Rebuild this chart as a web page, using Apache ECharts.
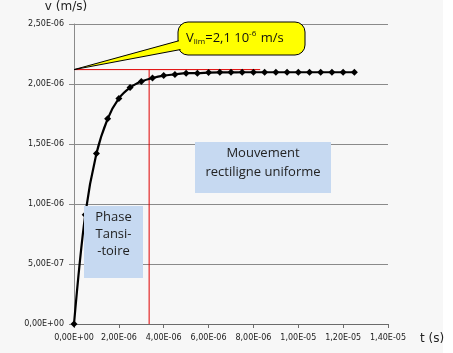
<!DOCTYPE html>
<html>
<head>
<meta charset="utf-8">
<script src="https://cdn.jsdelivr.net/npm/echarts@6/dist/echarts.min.js"></script>
<style>
html,body{margin:0;padding:0;background:#ffffff;}
#chart{width:453px;height:353px;}
</style>
</head>
<body>
<div id="chart"></div>
<script>
// time values (s)
var tValues = [0, 5e-7, 1e-6, 1.5e-6, 2e-6, 2.5e-6, 3e-6, 3.5e-6, 4e-6, 4.5e-6, 5e-6, 5.5e-6, 6e-6,
  6.5e-6, 7e-6, 7.5e-6, 8e-6, 8.5e-6, 9e-6, 9.5e-6, 1e-5, 1.05e-5, 1.1e-5, 1.15e-5, 1.2e-5, 1.25e-5];
// velocity values (m/s)
var vValues = [0, 9.1e-7, 1.42e-6, 1.71e-6, 1.88e-6, 1.97e-6, 2.02e-6, 2.05e-6, 2.07e-6, 2.08e-6, 2.09e-6, 2.09e-6, 2.095e-6,
  2.097e-6, 2.097e-6, 2.098e-6, 2.098e-6, 2.098e-6, 2.098e-6, 2.098e-6, 2.098e-6, 2.098e-6, 2.098e-6, 2.098e-6, 2.098e-6, 2.098e-6];
// reference lines
var vLimLine = 2.12e-6;     // red horizontal line level
var vLimLineEnd = 8.3e-6;   // end of red horizontal line
var tTransition = 3.35e-6;  // red vertical line
// axis ticks
var xMin = 0, xMax = 1.4e-5, xStep = 2e-6;
var yMin = 0, yMax = 2.5e-6, yStep = 5e-7;
// texts
var yAxisTitle = 'v (m/s)';
var xAxisTitle = 't (s)';
var boxPhaseText = 'Phase\nTansi-\n-toire';
var boxUniformText = 'Mouvement\nrectiligne uniforme';

function fmtSci(v) {
  var s = Number(v).toExponential(2).split('e');
  var m = s[0].replace('.', ',');
  var e = parseInt(s[1], 10);
  var sign = e < 0 ? '-' : '+';
  var a = Math.abs(e);
  return m + 'E' + sign + (a < 10 ? '0' + a : '' + a);
}

var pts = tValues.map(function (t, i) { return [t, vValues[i]]; });
var hLine = [[xMin, vLimLine], [vLimLineEnd, vLimLine]];
var vLine = [[tTransition, vLimLine], [tTransition, yMin]];

var chart = echarts.init(document.getElementById('chart'), null, {renderer: 'canvas'});
var option = {
  backgroundColor: '#ffffff',
  animation: false,
  grid: {left: 74, right: 65, top: 24, bottom: 29, containLabel: false},
  xAxis: {
    type: 'value', min: xMin, max: xMax, interval: xStep,
    axisLine: {show: true, onZero: false, lineStyle: {color: '#6b6b6b', width: 1}},
    axisTick: {show: true, inside: false, length: 4, lineStyle: {color: '#6b6b6b'}},
    splitLine: {show: false},
    axisLabel: {formatter: fmtSci, color: '#222', fontSize: 8, fontFamily: 'DejaVu Sans', margin: 10}
  },
  yAxis: {
    type: 'value', min: yMin, max: yMax, interval: yStep,
    axisLine: {show: true, lineStyle: {color: '#8a8a8a', width: 1}},
    axisTick: {show: true, length: 5, lineStyle: {color: '#8a8a8a'}},
    splitLine: {show: true, lineStyle: {color: '#8a8a8a', width: 1}},
    axisLabel: {formatter: fmtSci, color: '#222', fontSize: 8, fontFamily: 'DejaVu Sans', margin: 10}
  },
  series: [{
    type: 'line',
    data: hLine,
    symbol: 'none',
    lineStyle: {color: '#e00000', width: 1},
    z: 2, silent: true
  }, {
    type: 'line',
    data: vLine,
    symbol: 'none',
    lineStyle: {color: '#e00000', width: 1},
    z: 2, silent: true
  }, {
    type: 'line',
    data: pts,
    smooth: 0.35,
    symbol: 'diamond',
    symbolSize: 7,
    itemStyle: {color: '#000'},
    lineStyle: {color: '#000', width: 2.2},
    z: 3
  }]
};
chart.setOption(option);

var tip = chart.convertToPixel({gridIndex: 0}, [0, vLimLine]);
var tx = tip[0], ty = tip[1];

chart.setOption({
  graphic: [
    // background panel
    {type: 'rect', shape: {x: 0, y: 0, width: 443, height: 353}, style: {fill: '#f7f7f7'}, z: -10, silent: true},
    // blue annotation boxes
    {type: 'rect', shape: {x: 84, y: 206, width: 59, height: 72}, style: {fill: '#c6d9f1'}, z: 10},
    {type: 'text', x: 113.5, y: 209, style: {text: boxPhaseText, fill: '#222', font: '13px "Open Sans"', textAlign: 'center', lineHeight: 17}, z: 11},
    {type: 'rect', shape: {x: 195, y: 142, width: 136, height: 51}, style: {fill: '#c6d9f1'}, z: 10},
    {type: 'text', x: 263, y: 144, style: {text: boxUniformText, fill: '#222', font: '13px "Open Sans"', textAlign: 'center', lineHeight: 19}, z: 11},
    // callout bubble
    {type: 'rect', shape: {x: 178, y: 22, width: 127, height: 33, r: 10}, style: {fill: '#ffff00', stroke: '#000', lineWidth: 1}, z: 20},
    {type: 'polygon', shape: {points: [[tx, ty], [186, 38.8], [186, 48.5]]}, style: {fill: '#ffff00', stroke: '#000', lineWidth: 1}, z: 21},
    {type: 'rect', shape: {x: 179, y: 23, width: 125, height: 31, r: 9}, style: {fill: '#ffff00'}, z: 22},
    {type: 'text', x: 186, y: 38, style: {
      text: '{n|V}{sub|lim}{n|=2,1 10}{sup|-6}{n| m/s}',
      verticalAlign: 'middle',
      rich: {
        n: {fontSize: 13, fontFamily: 'Open Sans', fill: '#111', color: '#111'},
        sub: {fontSize: 8, fontFamily: 'Open Sans', color: '#111', fill: '#111', verticalAlign: 'bottom', padding: [6, 0, 0, 0]},
        sup: {fontSize: 8, fontFamily: 'Open Sans', color: '#111', fill: '#111', verticalAlign: 'top', padding: [0, 1, 8, 0]}
      }
    }, z: 23},
    // axis titles
    {type: 'text', x: 66, y: 7, style: {text: yAxisTitle, fill: '#222', font: '12px "DejaVu Sans"', textAlign: 'center', textVerticalAlign: 'middle'}, z: 5},
    {type: 'text', x: 432, y: 339, style: {text: xAxisTitle, fill: '#222', font: '12px "DejaVu Sans"', textAlign: 'center', textVerticalAlign: 'middle'}, z: 5}
  ]
});
</script>
</body>
</html>
